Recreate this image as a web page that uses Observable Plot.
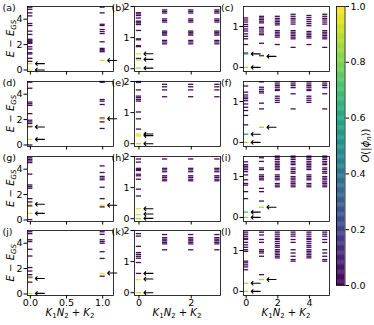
<!DOCTYPE html>
<html><head><meta charset="utf-8">
<script src="https://cdn.jsdelivr.net/npm/d3@7"></script>
<script src="https://cdn.jsdelivr.net/npm/@observablehq/plot@0.6"></script>
<style>
body{margin:0;background:#fff;}
#fig{position:relative;width:374px;height:325px;overflow:hidden;font-family:"DejaVu Sans",sans-serif;background:#fff;}
#fig svg{position:absolute;overflow:visible;}
</style></head><body><div id="fig"></div>
<script>
// ---------------- data: energy levels E - E_GS per K1N2+K2 (k), overlap O ----------------
const PURPLE = 0.03; // overlap of the (dark) bulk of levels

// (a)
const levelsA = [[0, [4.95, 4.78, 4.5, 4.26, 3.66, 3.5, 3.06, 2.8, 2.42, 2.34, 2.26, 2.18, 2.1, 1.83, 1.65, 1.36, 1.26, 0.92, 0.68]],
                 [1, [4.95, 4.5, 3.6, 3.5, 3.19, 3.03, 2.87, 2.22, 1.7, 1.6, 1.5, 1.44]]];
const brightA = [[0, 0.5, 0.93], [0, 0.0, 0.97], [1, 0.75, 0.9]];
const arrowsA = [[0, 0.5], [0, 0.0], [1, 0.75]];
// (b)
const upperB = [1.89, 1.84, 1.79, 1.6, 1.55, 1.5, 1.21, 1.17, 1.12, 1.08, 0.91, 0.86, 0.8];
const levelsB = [[0, [1.8, 1.76, 1.71, 1.63, 1.53, 1.5, 1.47, 1.42, 1.23, 0.96, 0.93, 0.74, 0.71, 0.33]],
                 [1, upperB], [2, upperB], [3, upperB]];
const brightB = [[0, 0.48, 0.95], [0, 0.28, 0.9], [0, 0.02, 0.85]];
const arrowsB = [[0, 0.48], [0, 0.3], [0, 0.02]];
// (c)
const levelsC = [[0, [1.21, 1.16, 1.11, 1.05, 1.0, 0.94, 0.89, 0.82, 0.76, 0.70, 0.56, 0.35]],
                 [1, [1.25, 1.21, 1.17, 1.13, 1.09, 0.98, 0.94, 0.89, 0.84, 0.80, 0.59, 0.29]],
                 [2, [1.25, 1.2, 1.16, 1.12, 1.08, 1.04, 0.9, 0.86, 0.82, 0.78, 0.74, 0.56]],
                 [3, [1.3, 1.25, 1.2, 1.16, 1.11, 1.06, 0.9, 0.86, 0.82, 0.78, 0.74, 0.7, 0.49]],
                 [4, [1.27, 1.22, 1.17, 1.12, 1.07, 1.02, 0.88, 0.84, 0.8, 0.76, 0.72, 0.56]],
                 [5, [1.3, 1.25, 1.2, 1.16, 1.11, 1.06, 0.9, 0.86, 0.82, 0.78, 0.74, 0.7, 0.49]]];
const brightC = [[0, 0.33, 0.6], [0, 0.0, 0.85], [1, 0.27, 0.85]];
const arrowsC = [[0, 0.33], [0, 0.0], [1, 0.27]];
// (d)
const levelsD = [[0, [4.95, 4.47, 3.38, 3.25, 3.12, 2.47, 1.95, 1.82, 1.69, 1.46, 0.0]],
                 [1, [5.0, 4.94, 3.58, 3.45, 3.19, 2.12, 1.82, 1.3]]];
const brightD = [[0, 1.39, 0.85], [0, 0.44, 0.93], [1, 2.04, 0.93]];
const arrowsD = [[0, 1.42], [0, 0.44], [1, 2.07]];
// (e)
const upperE = [1.91, 1.83, 1.73, 1.51];
const levelsE = [[0, [2.0, 1.97, 1.73, 1.53, 1.48, 1.42, 1.37, 1.02, 0.80, 0.47]],
                 [1, upperE], [2, upperE], [3, upperE]];
const brightE = [[0, 0.31, 0.95], [0, 0.25, 0.95], [0, 0.0, 0.9]];
const arrowsE = [[0, 0.31], [0, 0.26], [0, 0.0]];
// (f)
const evenF = [1.48, 1.43, 1.39, 1.35, 1.3, 1.27, 1.13, 1.08, 1.03, 0.98];
const oddF = [1.48, 1.43, 1.39, 1.34, 1.19, 0.82];
const levelsF = [[0, [1.38, 1.23, 1.16, 1.11, 1.07, 1.02, 0.94, 0.86, 0.78, 0.66, 0.43]],
                 [1, [1.48, 1.35, 1.3, 1.25, 1.21, 0.96, 0.82]],
                 [2, evenF], [3, oddF], [4, evenF], [5, oddF]];
const brightF = [[0, 0.2, 0.55], [0, 0.0, 0.88], [1, 0.37, 0.85]];
const arrowsF = [[0, 0.2], [0, 0.0], [1, 0.37]];
// (g)
const levelsG = [[0, [4.9, 4.77, 4.65, 4.52, 3.61, 2.76, 2.63, 2.5, 1.68, 1.42, 1.11, 0.03]],
                 [1, [4.26, 3.74, 3.43, 3.3, 3.17, 2.58, 1.68, 1.03]]];
const brightG = [[0, 1.24, 0.95], [0, 0.52, 0.95], [1, 1.16, 0.97]];
const arrowsG = [[0, 1.24], [0, 0.52], [1, 1.16]];
// (h)
const upperH = [1.92, 1.62, 1.57, 1.51, 1.38, 1.33, 1.27, 1.22];
const levelsH = [[0, [1.92, 1.82, 1.62, 1.58, 1.55, 1.43, 1.38, 1.27, 0.95, 0.73]],
                 [1, upperH], [2, upperH], [3, upperH]];
const brightH = [[0, 0.32, 0.95], [0, 0.13, 0.92], [0, 0.0, 0.85]];
const arrowsH = [[0, 0.32], [0, 0.15], [0, 0.01]];
// (i)
const evenI = [1.5, 1.46, 1.42, 1.37, 1.33, 1.29, 1.25, 1.21, 1.17, 1.04, 1.0, 0.96, 0.92, 0.83, 0.79, 0.75];
const oddI = [1.5, 1.46, 1.42, 1.37, 1.33, 1.29, 1.21, 1.17, 1.12, 1.08, 1.0, 0.96, 0.92, 0.87, 0.83, 0.79, 0.75];
const levelsI = [[0, [1.36, 1.29, 1.25, 1.21, 1.17, 1.12, 1.04, 0.92, 0.83, 0.79, 0.63, 0.46]],
                 [1, [1.46, 1.37, 1.21, 1.17, 1.04, 1.0, 0.96, 0.92, 0.71, 0.63, 0.4]],
                 [2, evenI], [3, oddI], [4, evenI], [5, oddI]];
const brightI = [[0, 0.13, 0.7], [0, 0.0, 0.85], [1, 0.25, 0.85]];
const arrowsI = [[0, 0.13], [0, 0.0], [1, 0.25]];
// (j)
const levelsJ = [[0, [4.9, 4.75, 4.27, 4.13, 3.52, 2.99, 2.08, 1.81, 1.52, 1.32, 0.93]],
                 [1, [4.9, 4.7, 4.27, 4.13, 4.0, 3.33, 2.8, 1.4]]];
const brightJ = [[0, 1.25, 0.9], [0, 0.03, 0.95], [1, 1.6, 0.95]];
const arrowsJ = [[0, 1.22], [0, 0.05], [1, 1.65]];
// (k)
const upperK = [1.87, 1.77, 1.72, 1.67, 1.62, 1.57, 1.38];
const levelsK = [[0, [1.9, 1.82, 1.49, 1.29, 1.23, 1.17, 1.11, 0.97, 0.62]],
                 [1, upperK], [2, upperK], [3, upperK]];
const brightK = [[0, 0.42, 0.97], [0, 0.0, 0.95]];
const arrowsK = [[0, 0.62], [0, 0.44], [0, 0.0]];
// (l)
const evenL = [1.45, 1.4, 1.35, 1.3, 1.27, 1.22, 1.17, 1.12, 1.08, 1.02, 0.98, 0.94, 0.9, 0.86, 0.82];
const oddL = [1.45, 1.4, 1.35, 1.27, 1.2, 1.02, 0.94, 0.86, 0.78, 0.74];
const levelsL = [[0, [1.45, 1.4, 1.35, 1.3, 1.27, 1.2, 1.14, 1.08, 1.02, 0.98, 0.74, 0.7, 0.65, 0.6, 0.53]],
                 [1, [1.45, 1.38, 1.27, 1.2, 1.02, 0.98, 0.94, 0.86, 0.41]],
                 [2, evenL], [3, oddL], [4, evenL], [5, oddL]];
const brightL = [[0, 0.2, 0.85], [0, 0.0, 0.85], [1, 0.29, 0.85]];
const arrowsL = [[0, 0.2], [0, 0.0], [1, 0.29]];

// axis tick values per column
const xTicksCol = [[0, 0.5, 1], [0, 2], [0, 2, 4]];
const yTicksCol = [[0, 2, 4], [0, 1, 2], [0, 1]];
const cbTicks = [0, 0.2, 0.4, 0.6, 0.8, 1.0];
const panelLetters = ["a","b","c","d","e","f","g","h","i","j","k","l"];

// ---------------- layout ----------------
const colLeft = [27, 134, 243];
const rowTop = [6, 81, 155.8, 230.3];
const PW = 86, PH = 65;
const cols = [
  {xDomain: [-0.04, 1.15], yDomain: [-0.12, 5.0], half: 0.035, fmt: d3.format(".1f")},
  {xDomain: [-0.17, 3.12], yDomain: [-0.09, 2.0], half: 0.1, fmt: d3.format("d")},
  {xDomain: [-0.17, 5.27], yDomain: [-0.1, 1.49], half: 0.16, fmt: d3.format("d")}
];
const panels = [
  [levelsA, brightA, arrowsA], [levelsB, brightB, arrowsB], [levelsC, brightC, arrowsC],
  [levelsD, brightD, arrowsD], [levelsE, brightE, arrowsE], [levelsF, brightF, arrowsF],
  [levelsG, brightG, arrowsG], [levelsH, brightH, arrowsH], [levelsI, brightI, arrowsI],
  [levelsJ, brightJ, arrowsJ], [levelsK, brightK, arrowsK], [levelsL, brightL, arrowsL]
];

const fig = document.getElementById("fig");
const FONT = "DejaVu Sans";
const M = 30;

panels.forEach(([lev, bright, arr], i) => {
  const col = i % 3, row = Math.floor(i / 3);
  const c = cols[col];
  const data = [];
  for (const [k, Es] of lev) for (const E of Es) data.push({k, E, O: PURPLE});
  for (const [k, E, O] of bright) data.push({k, E, O});
  const arrows = arr.map(([k, E]) => ({k, E}));
  const chart = Plot.plot({
    width: PW + 2 * M, height: PH + 2 * M,
    marginLeft: M, marginRight: M, marginTop: M, marginBottom: M,
    style: {background: "transparent", overflow: "visible", fontSize: "9.5px", fontFamily: FONT, color: "black"},
    x: {domain: c.xDomain, ticks: xTicksCol[col], tickFormat: row === 3 ? c.fmt : () => "", tickSize: 3.5, tickPadding: 0, label: null},
    y: {domain: c.yDomain, ticks: yTicksCol[col], tickFormat: d3.format("d"), tickSize: 3.5, tickPadding: 1.5, label: null},
    color: {type: "linear", scheme: "viridis", domain: [0, 1]},
    marks: [
      Plot.ruleY(data, {y: "E", x1: d => d.k - c.half, x2: d => d.k + c.half, stroke: "O", strokeWidth: 1.3}),
      Plot.vector(arrows, {x: "k", y: "E", rotate: -90, length: 9, anchor: "end", dx: 5, stroke: "black", strokeWidth: 1.1}),
      Plot.frame({stroke: "black", strokeWidth: 0.8})
    ]
  });
  chart.style.left = (colLeft[col] - M) + "px";
  chart.style.top = (rowTop[row] - M) + "px";
  fig.appendChild(chart);
});

// colorbar
const cbLeft = 336, cbTop = 6, cbW = 8.5, cbH = 279;
const steps = d3.range(0, 1, 0.004);
const cb = Plot.plot({
  width: cbW + 2 * M, height: cbH + 2 * M,
  marginLeft: M, marginRight: M, marginTop: M, marginBottom: M,
  style: {background: "transparent", overflow: "visible", fontSize: "9.5px", fontFamily: FONT, color: "black"},
  x: {domain: [0, 1], axis: null},
  y: {domain: [0, 1], axis: "right", ticks: cbTicks, tickFormat: d3.format(".1f"), tickSize: 3.5, tickPadding: 2, label: null},
  color: {type: "linear", scheme: "viridis", domain: [0, 1]},
  marks: [
    Plot.rect(steps, {x1: 0, x2: 1, y1: d => d, y2: d => Math.min(1, d + 0.005), fill: d => d + 0.002}),
    Plot.frame({stroke: "black", strokeWidth: 0.8})
  ]
});
cb.style.left = (cbLeft - M) + "px";
cb.style.top = (cbTop - M) + "px";
fig.appendChild(cb);

// overlay with labels
const ov = d3.select(fig).append("svg")
  .attr("width", 374).attr("height", 325)
  .style("left", "0px").style("top", "0px")
  .attr("font-family", FONT).attr("font-size", 10);

const labelX = [2.5, 111.5, 221];
panelLetters.forEach((L, i) => {
  const col = i % 3, row = Math.floor(i / 3);
  ov.append("text").attr("x", labelX[col]).attr("y", rowTop[row] + 5).attr("font-size", 9.5).text(`(${L})`);
});
rowTop.forEach(t => {
  const tx = ov.append("text").attr("text-anchor", "middle")
    .attr("transform", `translate(13.5,${t + PH / 2}) rotate(-90)`);
  tx.append("tspan").attr("font-style", "italic").text("E");
  tx.append("tspan").text(" \u2212 ");
  tx.append("tspan").attr("font-style", "italic").text("E");
  tx.append("tspan").attr("font-style", "italic").attr("font-size", 7).attr("dy", 2).text("GS");
});
colLeft.forEach(l => {
  const tx = ov.append("text").attr("text-anchor", "middle").attr("x", l + PW / 2).attr("y", 315.5);
  tx.append("tspan").attr("font-style", "italic").text("K");
  tx.append("tspan").attr("font-size", 7).attr("dy", 2).text("1");
  tx.append("tspan").attr("font-style", "italic").attr("dy", -2).text("N");
  tx.append("tspan").attr("font-size", 7).attr("dy", 2).text("2");
  tx.append("tspan").attr("dy", -2).text(" + ");
  tx.append("tspan").attr("font-style", "italic").text("K");
  tx.append("tspan").attr("font-size", 7).attr("dy", 2).text("2");
});
{
  const tx = ov.append("text").attr("text-anchor", "middle")
    .attr("transform", `translate(369,${cbTop + cbH / 2}) rotate(-90)`);
  tx.append("tspan").attr("font-style", "italic").text("O");
  tx.append("tspan").text("(|");
  tx.append("tspan").attr("font-style", "italic").text("\u03d5");
  tx.append("tspan").attr("font-style", "italic").attr("font-size", 7).attr("dy", 2).text("n");
  tx.append("tspan").attr("dy", -2).text("\u27e9)");
}
</script>
</body></html>
